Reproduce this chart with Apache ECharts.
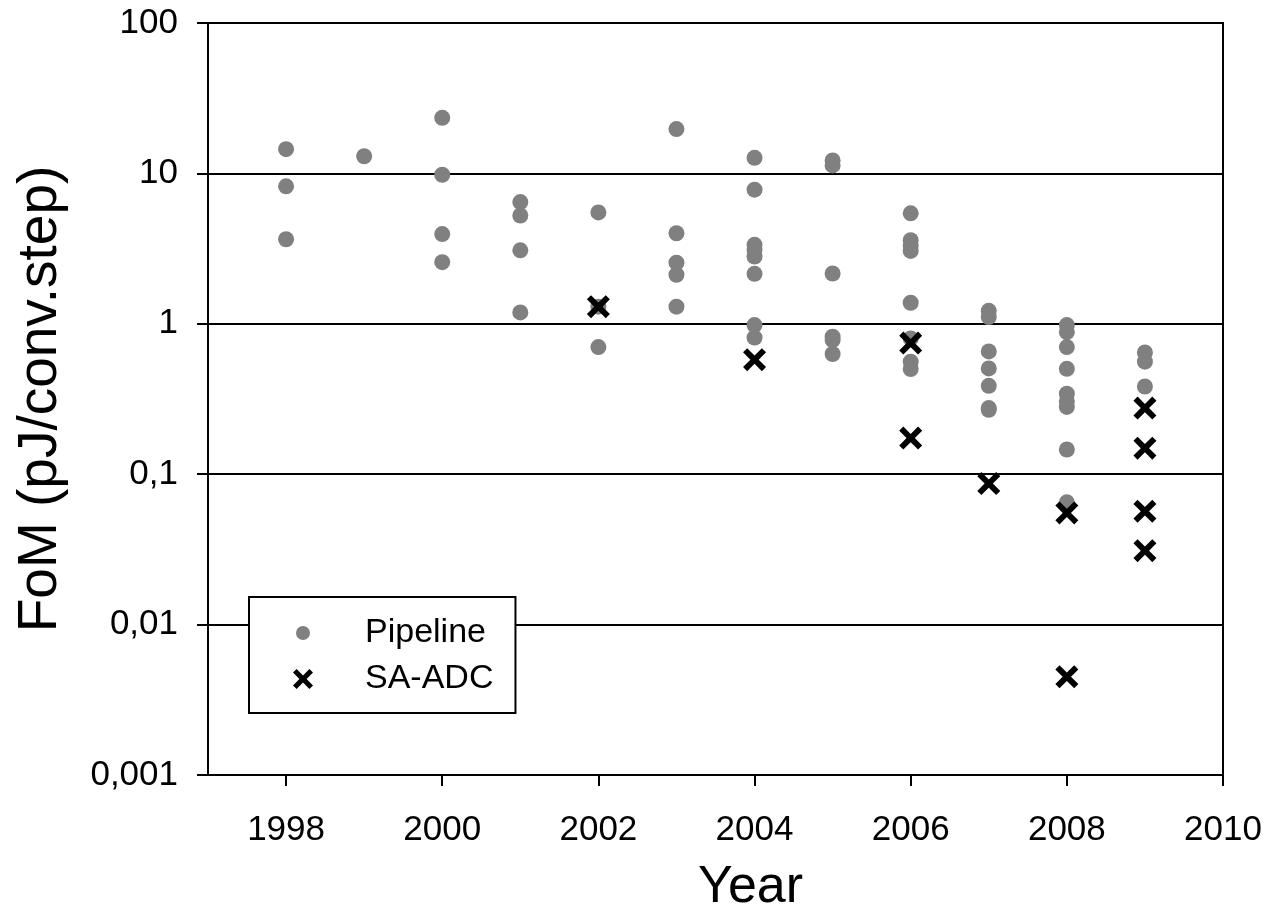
<!DOCTYPE html>
<html>
<head>
<meta charset="utf-8">
<script src="https://cdn.jsdelivr.net/npm/echarts@6/dist/echarts.min.js"></script>
<style>
  html, body { margin: 0; padding: 0; background: #fff; }
  #main { width: 1267px; height: 923px; }
</style>
</head>
<body>
<div id="main"></div>
<script>
// Pipeline ADCs: [year, FoM in pJ/conv.step]
var pipeline = [
	[1998, 14.5], [1998, 8.2], [1998, 3.65],
	[1999, 13],
	[2000, 23.4], [2000, 9.8], [2000, 3.95], [2000, 2.57],
	[2001, 6.45], [2001, 5.25], [2001, 3.08], [2001, 1.19],
	[2002, 5.5], [2002, 1.3], [2002, 0.7],
	[2003, 19.7], [2003, 4.0], [2003, 2.55], [2003, 2.12], [2003, 1.3],
	[2004, 12.7], [2004, 7.8], [2004, 3.35], [2004, 3.1], [2004, 2.8], [2004, 2.15], [2004, 0.98], [2004, 0.81],
	[2005, 12.2], [2005, 11.3], [2005, 2.16], [2005, 0.82], [2005, 0.78], [2005, 0.63],
	[2006, 5.43], [2006, 3.6], [2006, 3.3], [2006, 3.05], [2006, 1.38], [2006, 0.8], [2006, 0.56], [2006, 0.5],
	[2007, 1.22], [2007, 1.11], [2007, 0.655], [2007, 0.505], [2007, 0.387], [2007, 0.275], [2007, 0.268],
	[2008, 0.98], [2008, 0.88], [2008, 0.7], [2008, 0.502], [2008, 0.343], [2008, 0.305], [2008, 0.28], [2008, 0.146], [2008, 0.065],
	[2009, 0.645], [2009, 0.56], [2009, 0.383]
];
// successive approximation ADCs
var saAdc = [
	[2002, 1.3],
	[2004, 0.577],
	[2006, 0.744], [2006, 0.174],
	[2007, 0.0866],
	[2008, 0.0553], [2008, 0.0045],
	[2009, 0.275], [2009, 0.149], [2009, 0.0567], [2009, 0.031]
];
var yearTicks = [1998, 2000, 2002, 2004, 2006, 2008, 2010];
var fomTicks = [0.001, 0.01, 0.1, 1, 10, 100];
var fomLabels = ['0,001', '0,01', '0,1', '1', '10', '100'];

var crossPath = 'path://M3.6,0 L10,6.4 L16.4,0 L20,3.6 L13.6,10 L20,16.4 L16.4,20 L10,13.6 L3.6,20 L0,16.4 L6.4,10 L0,3.6 Z';
// circle with empty margin so the legend dot is smaller than the cross
var dotIcon = 'path://M0,0 M20,20 M17,10 A7,7 0 1 1 3,10 A7,7 0 1 1 17,10 Z';
var font = 'Liberation Sans, Arial, sans-serif';

function fomLabel(v){
	for (var i = 0; i < fomTicks.length; i++) {
		if (Math.abs(Math.log10(v) - Math.log10(fomTicks[i])) < 1e-6) return fomLabels[i];
	}
	return '';
}

var option = {
	animation: false,
	backgroundColor: '#fff',
	grid: {
		left: 208, top: 23, right: 44, bottom: 148,
		show: true,
		borderColor: '#000',
		borderWidth: 2
	},
	legend: {
		orient: 'vertical',
		left: 249, top: 597,
		padding: [19, 22, 17, 44],
		itemGap: 12,
		itemWidth: 20, itemHeight: 20,
		borderColor: '#000',
		borderWidth: 2,
		backgroundColor: '#fff',
		textStyle: { fontFamily: font, fontSize: 34, color: '#000', padding: [0, 0, 0, 47] },
		data: [
			{ name: 'Pipeline', icon: dotIcon },
			{ name: 'SA-ADC', icon: crossPath }
		]
	},
	xAxis: {
		type: 'value',
		min: 1997, max: 2010,
		name: 'Year',
		nameLocation: 'middle',
		nameGap: 87,
		nameTextStyle: { fontFamily: font, fontSize: 52, color: '#000', padding: [0, 0, 0, 70] },
		axisLine: { lineStyle: { color: '#000', width: 2 } },
		axisTick: { show: true, length: 11, lineStyle: { color: '#000', width: 2 }, customValues: yearTicks },
		axisLabel: {
			fontFamily: font, fontSize: 35, color: '#000', margin: 38, customValues: yearTicks,
			formatter: function (v) { return String(v); }
		},
		splitLine: { show: false }
	},
	yAxis: {
		type: 'log',
		logBase: 10,
		min: 0.001, max: 100,
		name: 'FoM (pJ/conv.step)',
		nameLocation: 'middle',
		nameGap: 140,
		nameTextStyle: { fontFamily: font, fontSize: 55, color: '#000' },
		axisLine: { lineStyle: { color: '#000', width: 2 } },
		axisTick: { length: 11, lineStyle: { color: '#000', width: 2 } },
		axisLabel: { fontFamily: font, fontSize: 35, color: '#000', margin: 30, formatter: fomLabel },
		splitLine: { show: true, lineStyle: { color: '#000', width: 2 } }
	},
	series: [
		{
			name: 'Pipeline',
			type: 'scatter',
			symbol: 'circle',
			symbolSize: 16,
			itemStyle: { color: '#808080', opacity: 1 },
			data: pipeline
		},
		{
			name: 'SA-ADC',
			type: 'scatter',
			symbol: crossPath,
			symbolSize: 23,
			itemStyle: { color: '#000', opacity: 1 },
			data: saAdc
		}
	]
};

var myChart = echarts.init(document.getElementById('main'));
myChart.setOption(option);
</script>
</body>
</html>
